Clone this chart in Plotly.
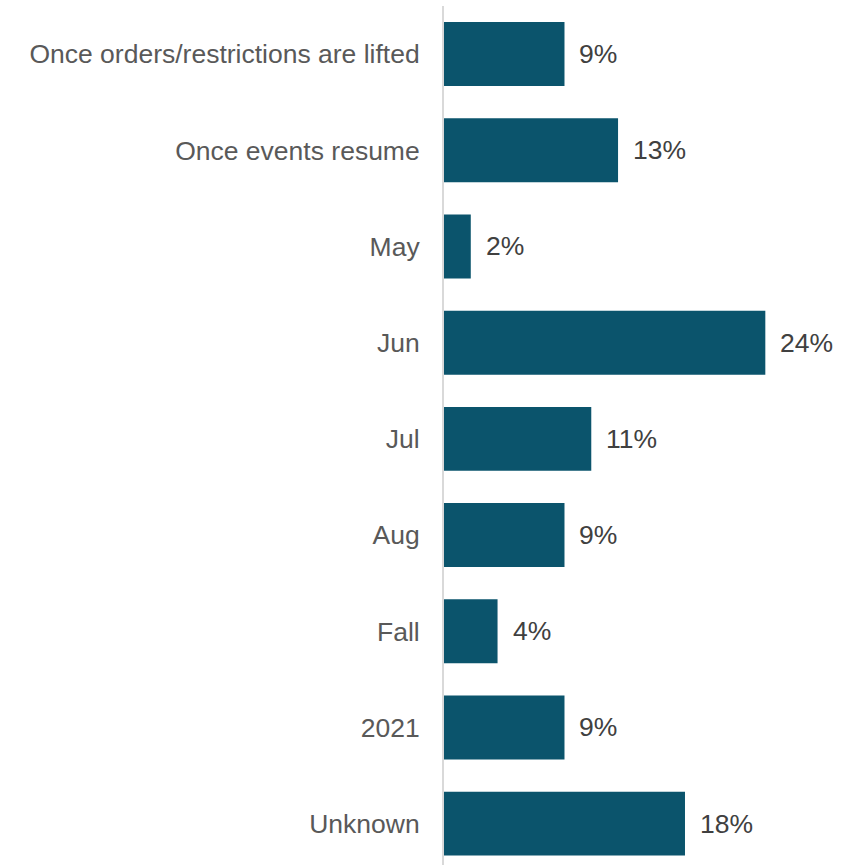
import plotly.graph_objects as go

# Share of respondents by expected timing
categories = [
    "Once orders/restrictions are lifted",
    "Once events resume",
    "May",
    "Jun",
    "Jul",
    "Aug",
    "Fall",
    "2021",
    "Unknown",
]
shares = [9, 13, 2, 24, 11, 9, 4, 9, 18]

BAR_COLOR = "#0b546c"
FONT = "Liberation Sans, Arial, sans-serif"
FONT_SIZE = 26.5

fig = go.Figure()
fig.add_trace(
    go.Bar(
        x=shares,
        y=list(range(len(categories))),
        orientation="h",
        marker=dict(color=BAR_COLOR, line=dict(width=0)),
        width=0.665,
        hoverinfo="skip",
    )
)

# Value labels to the right of each bar
for i, v in enumerate(shares):
    fig.add_annotation(
        x=v,
        y=i,
        text=f"{v}%",
        showarrow=False,
        xanchor="left",
        yanchor="middle",
        xshift=13,
        font=dict(family=FONT, size=FONT_SIZE, color="#404040"),
    )

fig.update_layout(
    width=851,
    height=865,
    margin=dict(l=444, r=0, t=6, b=0),
    paper_bgcolor="white",
    plot_bgcolor="white",
    showlegend=False,
    font=dict(family=FONT),
    xaxis=dict(
        range=[0, 30.4],
        showgrid=False,
        zeroline=False,
        showticklabels=False,
        showline=False,
        fixedrange=True,
    ),
    yaxis=dict(
        range=[8.43, -0.5],
        tickmode="array",
        tickvals=list(range(len(categories))),
        ticktext=categories,
        showgrid=False,
        zeroline=False,
        showline=True,
        linecolor="#d9d9d9",
        linewidth=2,
        ticks="",
        ticklabelstandoff=17,
        tickfont=dict(family=FONT, size=FONT_SIZE, color="#595959"),
        fixedrange=True,
    ),
)

fig.write_html("out.html")
